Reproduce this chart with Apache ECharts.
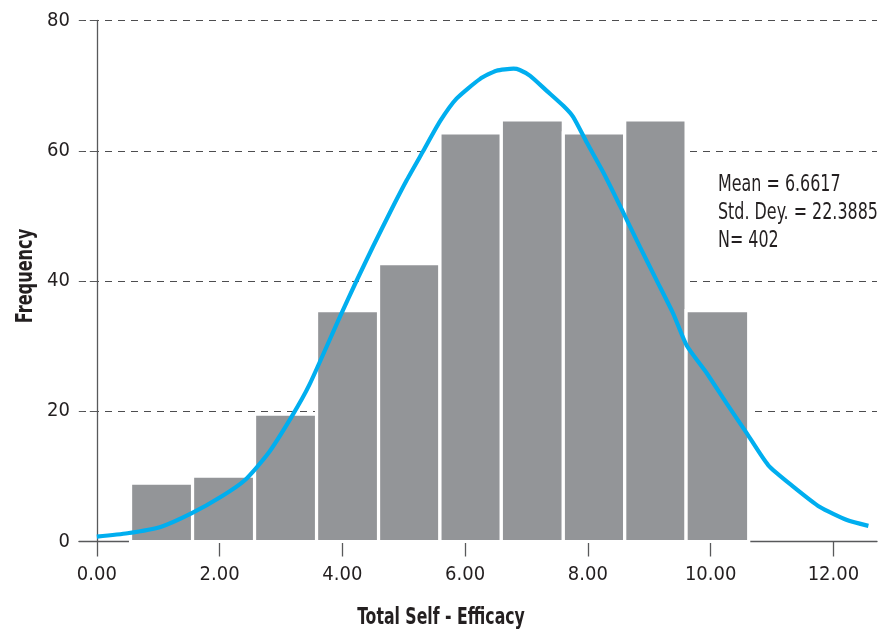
<!DOCTYPE html>
<html>
<head>
<meta charset="utf-8">
<title>Total Self - Efficacy</title>
<script src="https://cdn.jsdelivr.net/npm/echarts@6/dist/echarts.min.js"></script>
<style>
  html, body { margin: 0; padding: 0; background: #ffffff; }
  #chart { width: 895px; height: 630px; }
</style>
</head>
<body>
<div id="chart"></div>
<script>
// Histogram bins: edges on the score axis and counts per bin
const binEdges = [0.55, 1.56, 2.57, 3.58, 4.59, 5.59, 6.59, 7.60, 8.60, 9.60, 10.62];
const binCounts = [8.7, 9.8, 19.3, 35.2, 42.4, 62.5, 64.5, 62.5, 64.5, 35.2];

// Fitted density curve (scaled to frequency)
const curveX = [0, 0.5, 1.05, 1.54, 2.03, 2.41, 2.79, 3.17, 3.46, 3.96, 4.23, 4.5, 4.78, 5.05,
  5.32, 5.59, 5.86, 6.24, 6.51, 6.79, 6.89, 7.06, 7.33, 7.6, 7.76, 7.98, 8.25, 8.52, 8.85,
  9.12, 9.39, 9.61, 9.94, 10.26, 10.59, 10.94, 11.35, 11.78, 12.22, 12.57];
const curveY = [0.74, 1.26, 2.27, 4.3, 6.9, 9.4, 13.5, 19.1, 24.0, 34.5, 40.0, 45.3, 50.6, 55.5,
  60.0, 64.5, 68.0, 71.0, 72.3, 72.6, 72.4, 71.5, 69.2, 66.9, 65.2, 61.3, 56.7, 51.6, 45.2,
  40.1, 35.0, 30.1, 25.8, 21.2, 16.6, 11.7, 8.4, 5.3, 3.3, 2.4];

// Axis ticks
const xTicks = [0, 2, 4, 6, 8, 10, 12];

// Summary statistics
const statLines = ['Mean = 6.6617', 'Std. Dey. = 22.3885', 'N= 402'];

const FONT = '"DejaVu Sans Condensed", "Liberation Sans Narrow", sans-serif';
const INK = '#231f20';
const AXIS = '#58595b';

const barData = binCounts.map((v, i) => [binEdges[i], binEdges[i + 1], v]);
const curveData = curveX.map((x, i) => [x, curveY[i]]);

const chart = echarts.init(document.getElementById('chart'), null, { renderer: 'canvas' });

chart.setOption({
  animation: false,
  backgroundColor: '#ffffff',
  grid: { left: 79, right: 18, top: 20.5, bottom: 88.5, containLabel: false },
  xAxis: {
    type: 'value',
    min: -0.29,
    max: 12.71,
    splitLine: { show: false },
    axisLine: { show: true, onZero: false, lineStyle: { color: AXIS, width: 1.3 } },
    axisTick: { show: true, length: 15, customValues: xTicks, lineStyle: { color: AXIS, width: 1.3 } },
    axisLabel: {
      customValues: xTicks,
      formatter: v => Number(v).toFixed(2),
      color: INK, fontFamily: FONT, fontSize: 20, margin: 23
    }
  },
  yAxis: {
    type: 'value',
    min: 0,
    max: 80,
    interval: 20,
    axisLine: { show: true, onZero: true, lineStyle: { color: AXIS, width: 1.3 } },
    axisTick: { show: true, length: 18, lineStyle: { color: AXIS, width: 1, type: [7, 6] } },
    splitLine: { show: true, lineStyle: { color: '#4d4d4f', width: 1, type: [7, 6] } },
    axisLabel: { color: INK, fontFamily: FONT, fontSize: 20, margin: 9 }
  },
  series: [
    {
      type: 'custom',
      z: 3,
      data: barData,
      encode: { x: [0, 1], y: 2 },
      renderItem: function (params, api) {
        const p0 = api.coord([api.value(0), 0]);
        const p1 = api.coord([api.value(1), api.value(2)]);
        const half = 1.6;
        return {
          type: 'rect',
          shape: { x: p0[0], y: p1[1] - half, width: p1[0] - p0[0], height: p0[1] - p1[1] + half },
          style: { fill: '#939598', stroke: '#ffffff', lineWidth: half * 2 }
        };
      }
    },
    {
      type: 'line',
      z: 4,
      data: curveData,
      showSymbol: false,
      smooth: 0.2,
      lineStyle: { color: '#00aeef', width: 4.2 }
    }
  ],
  graphic: [
    {
      type: 'text', x: 26, y: 276, rotation: Math.PI / 2, scaleX: 0.78,
      style: { text: 'Frequency', x: 0, y: 0, align: 'center', verticalAlign: 'middle',
        font: 'bold 23px ' + FONT, fill: INK }
    },
    {
      type: 'text', x: 441, y: 618, scaleX: 0.76,
      style: { text: 'Total Self - Efficacy', align: 'center', verticalAlign: 'middle',
        font: 'bold 23px ' + FONT, fill: INK }
    }
  ].concat(statLines.map((t, i) => ({
    type: 'text', x: 718, y: 185 + i * 28, scaleX: 0.77,
    style: { text: t, align: 'left', verticalAlign: 'middle', font: '23px ' + FONT, fill: INK }
  })))
});
</script>
</body>
</html>
